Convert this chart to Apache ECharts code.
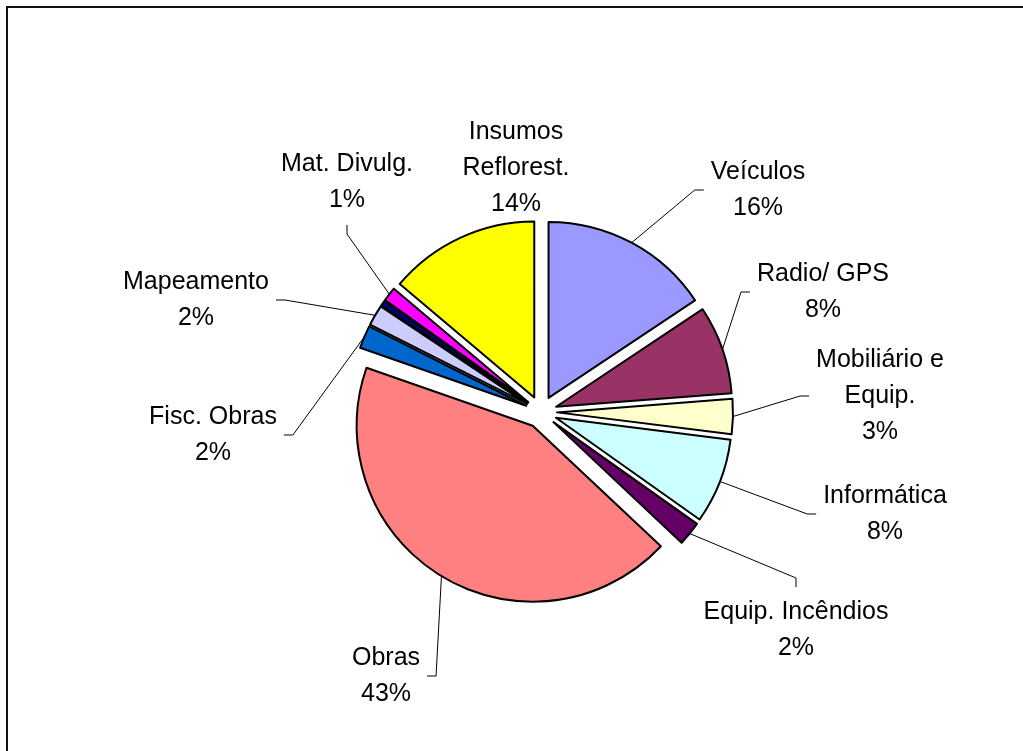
<!DOCTYPE html>
<html><head><meta charset="utf-8">
<script src="https://cdn.jsdelivr.net/npm/echarts@6/dist/echarts.min.js"></script>
<style>html,body{margin:0;padding:0;background:#fff;} #chart{width:1023px;height:751px;}</style>
</head><body><div id="chart"></div>
<script>
// Categories clockwise from 12 o'clock
const categories = ['Veículos', 'Radio/ GPS', 'Mobiliário e\nEquip.', 'Informática', 'Equip. Incêndios', 'Obras', 'Fisc. Obras', 'Mapeamento', '', 'Mat. Divulg.', 'Insumos\nReflorest.'];
const values = [15.6, 8.1, 3.2, 7.8, 2.2, 43.2, 2.1, 1.9, 0.5, 1.3, 13.8];

// styles / layout (kept apart from data)
const colors = ['#9999FF', '#993366', '#FFFFCC', '#CCFFFF', '#660066', '#FF8080', '#0066CC', '#CCCCFF', '#000080', '#FF00FF', '#FFFF00'];
const labelCenters = [[758, 190], [823, 292], [880, 396], [885, 514], [796, 630], [386, 676], [213, 435], [196, 300], null, [347, 182], [516, 168]];
const labelAnchors = ['left', 'left', 'left', 'left', 'top', 'right', 'right', 'right', null, 'bottom', null];

const CX = 541, CY = 412, R = 176, OFFSET = 16, PAD = 7, STUB = 9;

const total = values.reduce((a, b) => a + b, 0);
// mid angle of each slice (radians, clockwise from 12 o'clock)
let acc = 0;
const mids = values.map(v => { const a0 = acc; acc += v; return (a0 + v / 2) / total * 2 * Math.PI; });

const pieData = categories.map((name, i) => ({
  name: name,
  value: values[i],
  selected: true,
  itemStyle: { color: colors[i] }
}));

const labelData = categories.map((name, i) => {
  const item = { name: name, value: values[i] };
  if (!labelCenters[i]) item.label = { show: false };
  if (!labelAnchors[i]) item.labelLine = { show: false };
  return item;
});

const common = {
  type: 'pie',
  center: [CX, CY],
  radius: R,
  startAngle: 90,
  clockwise: true,
  avoidLabelOverlap: false,
  silent: true,
  emphasis: { disabled: true }
};

const chart = echarts.init(document.getElementById('chart'), null, { renderer: 'canvas' });
chart.setOption({
  animation: false,
  backgroundColor: '#fff',
  graphic: [{
    type: 'rect',
    z: -10,
    shape: { x: 7, y: 7, width: 1060, height: 800 },
    style: { fill: 'transparent', stroke: '#111', lineWidth: 2 }
  }],
  series: [
    Object.assign({}, common, {
      name: 'labels',
      z: 1,
      data: labelData,
      itemStyle: { color: 'rgba(0,0,0,0)', borderWidth: 0 },
      label: {
        show: true,
        position: 'outside',
        color: '#000',
        fontFamily: 'Liberation Sans, Arial, sans-serif',
        fontSize: 25,
        lineHeight: 36,
        align: 'center',
        formatter: p => p.name + '\n' + Math.round(p.value / total * 100) + '%'
      },
      labelLine: {
        show: true,
        length: 10,
        length2: 9,
        smooth: false,
        lineStyle: { color: '#000', width: 1 }
      },
      labelLayout: function (params) {
        const i = params.dataIndex;
        const c = labelCenters[i];
        if (!c) return {};
        const w = params.labelRect.width, h = params.labelRect.height;
        const out = { x: c[0], y: c[1], align: 'center', verticalAlign: 'middle' };
        const side = labelAnchors[i];
        if (side) {
          const a = mids[i], rr = R + OFFSET;
          const p0 = [CX + rr * Math.sin(a), CY - rr * Math.cos(a)];
          let anchor, stub;
          if (side === 'left') { anchor = [c[0] - w / 2 - PAD, c[1]]; stub = [anchor[0] - STUB, anchor[1]]; }
          else if (side === 'right') { anchor = [c[0] + w / 2 + PAD, c[1]]; stub = [anchor[0] + STUB, anchor[1]]; }
          else if (side === 'top') { anchor = [c[0], c[1] - h / 2 - PAD]; stub = [anchor[0], anchor[1] - STUB]; }
          else { anchor = [c[0], c[1] + h / 2 + PAD]; stub = [anchor[0], anchor[1] + STUB]; }
          out.labelLinePoints = [p0, stub, anchor];
        }
        return out;
      }
    }),
    Object.assign({}, common, {
      name: 'pie',
      z: 2,
      selectedMode: 'multiple',
      selectedOffset: OFFSET,
      data: pieData,
      itemStyle: { borderColor: '#000', borderWidth: 2 },
      select: { itemStyle: { borderColor: '#000', borderWidth: 2 } },
      label: { show: false },
      labelLine: { show: false }
    })
  ]
});
</script>
</body></html>
